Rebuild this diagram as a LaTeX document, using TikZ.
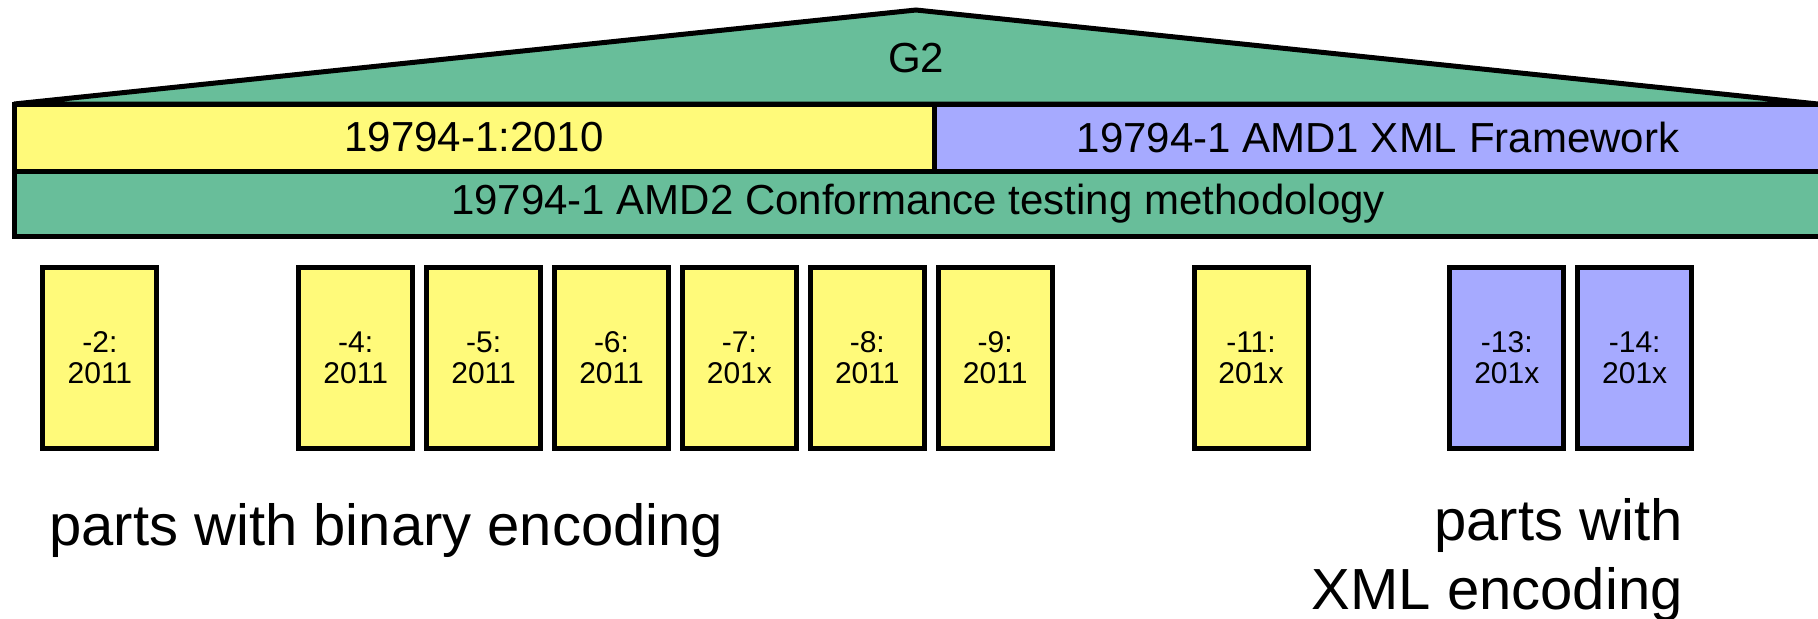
\documentclass[tikz,border=0pt]{standalone}
\usepackage{fontspec}
\setmainfont{Liberation Sans}
\definecolor{topgreen}{HTML}{68BE9A}
\definecolor{partyellow}{HTML}{FFFA7A}
\definecolor{partblue}{HTML}{A6AAFF}
\begin{document}
\begin{tikzpicture}[x=0.5pt,y=-0.5pt,
  outl/.style={draw=black, line width=2.5pt},
  barfont/.style={font=\fontsize{21}{25}\selectfont},
  bar/.style={outl, rectangle, inner sep=0pt, barfont},
  part/.style={outl, rectangle, minimum width=57pt, minimum height=90.5pt,
    inner sep=0pt, align=center, font=\fontsize{15}{15.5}\selectfont},
  note/.style={inner sep=0pt, font=\fontsize{29}{34.5}\selectfont}]
\useasboundingbox (0,0) rectangle (1818,618);

% roof of the G2 group
\coordinate (roofL) at (14,104);
\coordinate (apex) at (916,10);
\coordinate (roofR) at (1818,104);
\draw[outl, fill=topgreen, line join=miter] (roofL) -- (apex) -- (roofR) -- cycle;
\node[barfont, inner sep=0pt] (g2) at (916,58) {G2};

% base standard and amendments
\node[bar, fill=partyellow, minimum width=460pt, minimum height=33.5pt]
  (base) at (474,137.5) {19794-1:2010};
\node[bar, fill=partblue, minimum width=444pt, minimum height=33.5pt]
  (amd1) at (1378,137.5) {19794-1 AMD1 XML Framework};
\node[bar, fill=topgreen, minimum width=904pt, minimum height=32.5pt]
  (amd2) at (918,203.5) {19794-1 AMD2 Conformance testing methodology};

% individual parts
\node[part, fill=partyellow] (p2)  at (99.9,358) {-2:\\2011};
\node[part, fill=partyellow] (p4)  at (355.7,358) {-4:\\2011};
\node[part, fill=partyellow] (p5)  at (483.6,358) {-5:\\2011};
\node[part, fill=partyellow] (p6)  at (611.5,358) {-6:\\2011};
\node[part, fill=partyellow] (p7)  at (739.4,358) {-7:\\201x};
\node[part, fill=partyellow] (p8)  at (867.3,358) {-8:\\2011};
\node[part, fill=partyellow] (p9)  at (995.2,358) {-9:\\2011};
\node[part, fill=partyellow] (p11) at (1251.0,358) {-11:\\201x};
\node[part, fill=partblue]   (p13) at (1506.8,358) {-13:\\201x};
\node[part, fill=partblue]   (p14) at (1634.7,358) {-14:\\201x};

% captions
\node[note, anchor=base west] (binary) at (49,545) {parts with binary encoding};
\node[note, anchor=base east, align=right] (xml) at (1683,609) {parts with\\XML encoding};
\end{tikzpicture}
\end{document}
